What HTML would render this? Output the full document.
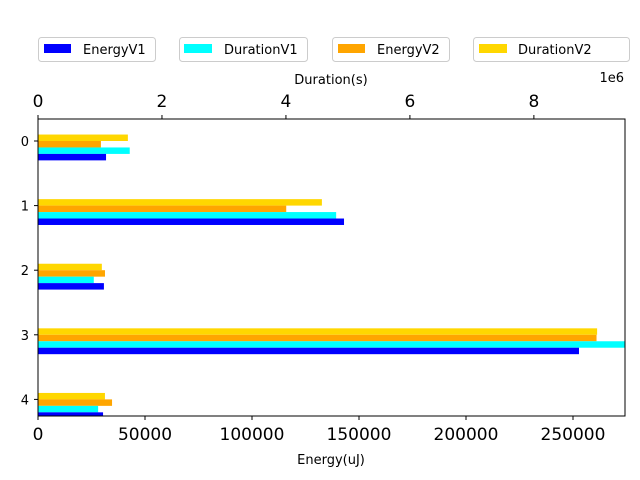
<!DOCTYPE html>
<html><head><meta charset="utf-8"><style>body{margin:0;background:#fff}svg{display:block;font-family:"DejaVu Sans",sans-serif}</style></head>
<body>
<svg id="chart" width="640" height="480" xmlns="http://www.w3.org/2000/svg"></svg>
<script>
const categories = ['0','1','2','3','4'];
const energyV1 = [31800, 143000, 30800, 252800, 30400];
const energyV2 = [29400, 116000, 31300, 261000, 34600];
const durationV1 = [1.48e6, 4.81e6, 0.90e6, 9.6e6, 0.97e6];
const durationV2 = [1.45e6, 4.58e6, 1.03e6, 9.02e6, 1.08e6];
const energyTicks = [0, 50000, 100000, 150000, 200000, 250000];
const durationTicks = [0, 2, 4, 6, 8];

const NS = 'http://www.w3.org/2000/svg';
const svg = document.getElementById('chart');
const L = 38, R = 625, T = 119, B = 416;
const eMax = 274300, dMax = 9.47e6;
const xE = v => L + v / eMax * (R - L);
const xD = v => L + v / dMax * (R - L);
const unit = 64.6;
const yC = i => 141 + i * unit;
function mk(tag, attrs, parent) {
  const e = document.createElementNS(NS, tag);
  for (const k in attrs) e.setAttribute(k, attrs[k]);
  (parent || svg).appendChild(e);
  return e;
}
const defs = mk('defs', {});
const cp = mk('clipPath', {id: 'clip'}, defs);
mk('rect', {x: L, y: T, width: R - L, height: B - T}, cp);
const g = mk('g', {'clip-path': 'url(#clip)'});


const series = [
  {vals: durationV2, x: xD, off: -0.1, color: '#ffd700', name: 'durationv2'},
  {vals: energyV2, x: xE, off: 0, color: '#ffa500', name: 'energyv2'},
  {vals: durationV1, x: xD, off: 0.1, color: '#00ffff', name: 'durationv1'},
  {vals: energyV1, x: xE, off: 0.2, color: '#0000ff', name: 'energyv1'}
];
series.forEach(s => {
  s.vals.forEach((v, i) => {
    const r = mk('rect', {x: L, y: yC(i) + s.off * unit, width: s.x(v) - L, height: 0.1 * unit, fill: s.color}, g);
    
    
  });
});
mk('rect', {x: L, y: T, width: R - L, height: B - T, fill: 'none', stroke: '#000', 'stroke-width': 1});
energyTicks.forEach(t => {
  const x = xE(t);
  mk('line', {x1: x, x2: x, y1: B, y2: B + 4, stroke: '#000'});
  const tx = mk('text', {x: x, y: B + 24, 'font-size': 17, 'text-anchor': 'middle'});
  tx.textContent = t;
  
  
});
durationTicks.forEach(t => {
  const x = xD(t * 1e6);
  mk('line', {x1: x, x2: x, y1: T, y2: T - 4, stroke: '#000'});
  const tx = mk('text', {x: x, y: T - 12, 'font-size': 17, 'text-anchor': 'middle'});
  tx.textContent = t;
  
  
});
categories.forEach((c, i) => {
  const y = yC(i);
  mk('line', {x1: L, x2: L - 4, y1: y, y2: y, stroke: '#000'});
  const tx = mk('text', {x: L - 9, y: y + 5, 'font-size': 13, 'text-anchor': 'end'});
  tx.textContent = c;
  
  
});
</script>
<svg style="position:absolute;left:0;top:0" width="640" height="480" xmlns="http://www.w3.org/2000/svg" font-family="DejaVu Sans, sans-serif">
<text x="331" y="464" font-size="13" text-anchor="middle">Energy(uJ)</text>
<text x="331" y="84" font-size="13" text-anchor="middle">Duration(s)</text>
<text x="624" y="82" font-size="13" text-anchor="end">1e6</text>
<g><rect x="38.5" y="37.5" width="117" height="24" rx="3" fill="#fff" stroke="#ccc"/><rect x="44" y="44" width="27" height="9" fill="#0000ff"/><text x="83" y="54" font-size="13">EnergyV1</text></g>
<g><rect x="179.5" y="37.5" width="128" height="24" rx="3" fill="#fff" stroke="#ccc"/><rect x="184" y="44" width="28" height="9" fill="#00ffff"/><text x="224" y="54" font-size="13">DurationV1</text></g>
<g><rect x="332.5" y="37.5" width="117" height="24" rx="3" fill="#fff" stroke="#ccc"/><rect x="338" y="44" width="27" height="9" fill="#ffa500"/><text x="377" y="54" font-size="13">EnergyV2</text></g>
<g><rect x="473.5" y="37.5" width="156" height="24" rx="3" fill="#fff" stroke="#ccc"/><rect x="479" y="44" width="28" height="9" fill="#ffd700"/><text x="518" y="54" font-size="13">DurationV2</text></g>
</svg>
</body></html>
